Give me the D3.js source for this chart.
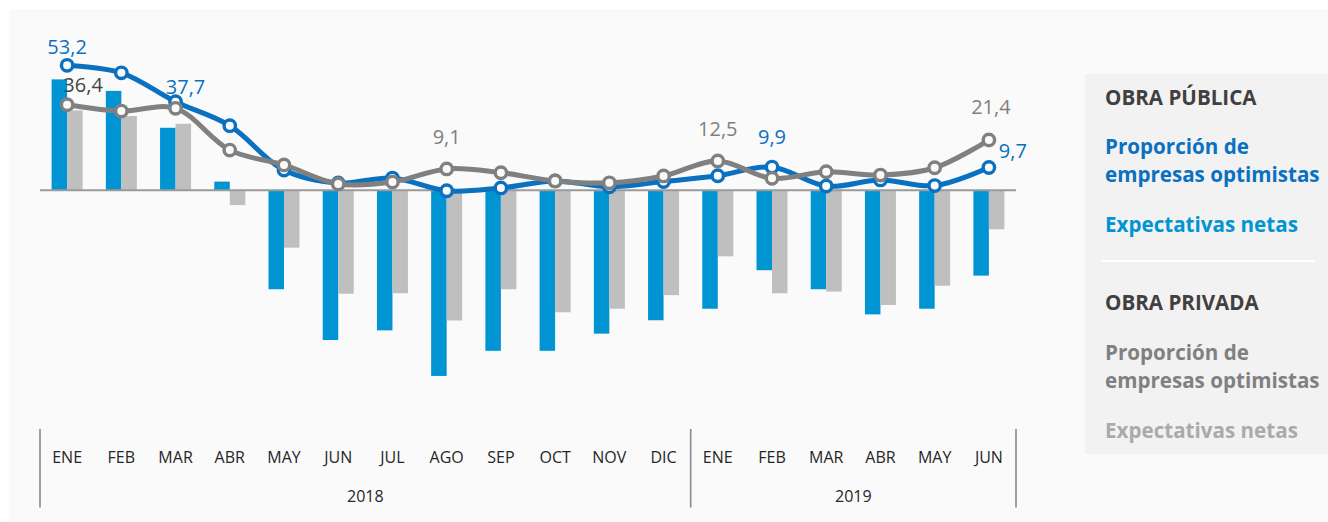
<!DOCTYPE html>
<html>
<head>
<meta charset="utf-8">
<script src="https://cdn.jsdelivr.net/npm/d3@7"></script>
<style>
  html, body { margin: 0; padding: 0; background: #ffffff; }
  svg { display: block; font-family: "Open Sans", sans-serif; }
</style>
</head>
<body>
<svg id="chart" width="1328" height="522"></svg>
<script>
// ---- Data ----
const months = ["ENE","FEB","MAR","ABR","MAY","JUN","JUL","AGO","SEP","OCT","NOV","DIC","ENE","FEB","MAR","ABR","MAY","JUN"];
const years = [{label: "2018", from: 0, to: 11}, {label: "2019", from: 12, to: 17}];

// Obra pública
const publicOptimistas = [53.2, 50.0, 37.7, 27.5, 8.6, 3.1, 5.2, -0.2, 1.0, 4.0, 1.5, 3.7, 6.2, 9.9, 1.8, 4.4, 2.0, 9.7];
const publicNetas      = [47.2, 42.3, 26.6, 3.7, -42.1, -63.7, -59.6, -79.0, -68.3, -68.3, -61.0, -55.3, -50.4, -34.0, -42.1, -52.8, -50.4, -36.3];
// Obra privada
const privateOptimistas = [36.4, 33.7, 34.9, 17.1, 10.8, 2.7, 3.5, 9.1, 7.5, 4.0, 3.2, 6.1, 12.5, 5.1, 7.9, 6.5, 9.6, 21.4];
const privateNetas      = [34.0, 31.6, 28.3, -6.3, -24.4, -44.0, -43.8, -55.4, -42.1, -51.9, -50.4, -44.6, -28.1, -43.8, -43.1, -48.8, -40.6, -16.6];

// Which points carry a value label
const publicLabelIdx = [0, 2, 13, 17];
const privateLabelIdx = [0, 7, 12, 17];

// ---- Layout / style ----
const C = {
  bg: "#fafafa", legendBg: "#f2f2f2",
  pubLine: "#0a70c0", pubBar: "#0094d3",
  privLine: "#808080", privBar: "#bfbfbf",
  axis: "#9a9a9a", text: "#262626"
};
// label offsets (px) relative to their point
const labelOffsets = {
  pub: {0: [0, -11], 2: [10, -8], 13: [0, -23], 17: [24, -10]},
  priv: {0: [16, -13], 7: [0, -25], 12: [0, -25], 17: [2, -26]}
};

const svg = d3.select("#chart");
svg.append("rect").attr("x", 9).attr("y", 9).attr("width", 1328 - 9).attr("height", 522 - 9).attr("fill", C.bg);

const x = d3.scaleBand().domain(d3.range(months.length)).range([40, 1016]).padding(0);
const y = d3.scaleLinear().domain([-80, 55]).range([378.3, 61.05]);
const barW = 15.5;
const cx = i => x(i) + x.bandwidth() / 2;

// Bars
const g = svg.append("g");
g.selectAll(".bpub").data(publicNetas).join("rect")
  .attr("x", (d, i) => cx(i) - barW)
  .attr("y", d => Math.min(y(d), y(0)))
  .attr("width", barW)
  .attr("height", d => Math.abs(y(d) - y(0)))
  .attr("fill", C.pubBar);
g.selectAll(".bpriv").data(privateNetas).join("rect")
  .attr("x", (d, i) => cx(i))
  .attr("y", d => Math.min(y(d), y(0)))
  .attr("width", barW)
  .attr("height", d => Math.abs(y(d) - y(0)))
  .attr("fill", C.privBar);

// Zero line
g.append("line").attr("x1", 40).attr("x2", 1016).attr("y1", y(0)).attr("y2", y(0))
  .attr("stroke", C.axis).attr("stroke-width", 2);

// Lines
function drawLine(values, color) {
  const line = d3.line().x((d, i) => cx(i)).y(d => y(d)).curve(d3.curveCatmullRom.alpha(0.5));
  g.append("path").datum(values).attr("d", line).attr("fill", "none")
    .attr("stroke", color).attr("stroke-width", 5).attr("stroke-linejoin", "round");
  g.append("g").selectAll("circle").data(values).join("circle")
    .attr("cx", (d, i) => cx(i)).attr("cy", d => y(d)).attr("r", 5.7)
    .attr("fill", C.bg).attr("stroke", color).attr("stroke-width", 3.4);
}
drawLine(publicOptimistas, C.pubLine);
drawLine(privateOptimistas, C.privLine);

// Value labels
const fmt = v => d3.format(".1f")(v).replace(".", ",");
function drawLabels(values, idx, offs, colorFn) {
  g.append("g").selectAll("text").data(idx).join("text")
    .attr("x", i => cx(i) + offs[i][0])
    .attr("y", i => y(values[i]) + offs[i][1])
    .attr("text-anchor", "middle")
    .attr("font-size", 20)
    .attr("fill", colorFn)
    .text(i => fmt(values[i]));
}
drawLabels(publicOptimistas, publicLabelIdx, labelOffsets.pub, () => C.pubLine);
drawLabels(privateOptimistas, privateLabelIdx, labelOffsets.priv, i => i === 0 ? "#454545" : "#7f7f7f");

// X axis (months)
const axis = d3.axisBottom(x).tickSize(0).tickPadding(2).tickFormat(i => months[i]);
const ax = svg.append("g").attr("transform", "translate(0,450)").call(axis);
ax.select(".domain").remove();
ax.selectAll("text").attr("font-size", 16).attr("fill", C.text).attr("font-family", "Open Sans, sans-serif");

// Year separators and labels
const seps = [x(0), x(12), x(17) + x.bandwidth()];
svg.append("g").selectAll("line").data(seps).join("line")
  .attr("x1", d => d).attr("x2", d => d).attr("y1", 429).attr("y2", 507.5)
  .attr("stroke", "#8a8a8a").attr("stroke-width", 1.6);
svg.append("g").selectAll("text").data(years).join("text")
  .attr("x", d => (x(d.from) + x(d.to) + x.bandwidth()) / 2)
  .attr("y", 502)
  .attr("text-anchor", "middle").attr("font-size", 16).attr("fill", C.text)
  .text(d => d.label);

// Legend
const lg = svg.append("g");
lg.append("rect").attr("x", 1085).attr("y", 74).attr("width", 1328 - 1085).attr("height", 454 - 74).attr("fill", C.legendBg);
const legendItems = [
  {t: ["OBRA PÚBLICA"], y: 105, c: "#404040"},
  {t: ["Proporción de", "empresas optimistas"], y: 154, c: C.pubLine},
  {t: ["Expectativas netas"], y: 231.5, c: C.pubBar},
  {t: ["OBRA PRIVADA"], y: 310, c: "#404040"},
  {t: ["Proporción de", "empresas optimistas"], y: 360, c: "#808080"},
  {t: ["Expectativas netas"], y: 438, c: "#aaaaaa"}
];
lg.selectAll("text").data(legendItems).join("text")
  .attr("x", 1105).attr("y", d => d.y)
  .attr("font-size", 20.6).attr("font-weight", "bold").attr("fill", d => d.c)
  .each(function(d) {
    d3.select(this).selectAll("tspan").data(d.t).join("tspan")
      .attr("x", 1105).attr("dy", (t, i) => i === 0 ? 0 : 28.2)
      .text(t => t);
  });
lg.append("line").attr("x1", 1102).attr("x2", 1315).attr("y1", 261).attr("y2", 261)
  .attr("stroke", "#ffffff").attr("stroke-width", 2);
</script>
</body>
</html>
